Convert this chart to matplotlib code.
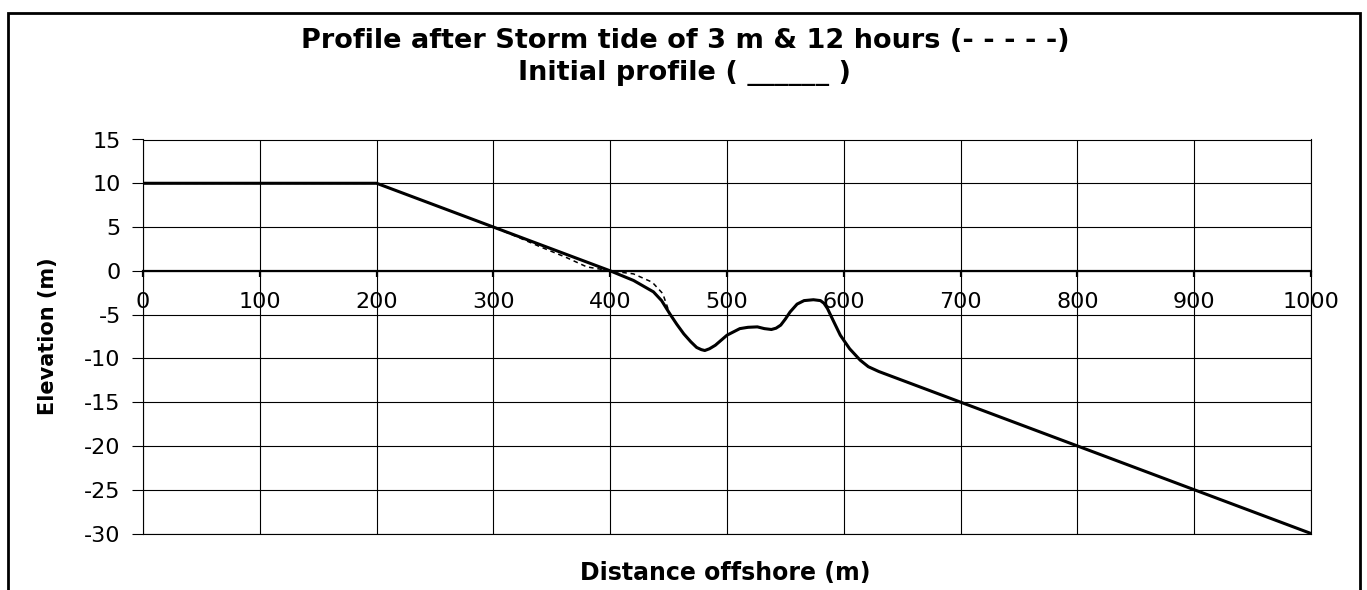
import matplotlib
matplotlib.use('Agg')
import matplotlib.pyplot as plt
from matplotlib.patches import Rectangle

# initial profile (solid)
initial_x = [0, 200, 300, 400, 420, 437, 444, 451, 457, 463, 469, 474, 478, 481, 485, 490, 500, 511,
             518, 526, 532, 538, 542, 546, 550, 554, 560, 566, 574, 580, 583, 586, 591, 597, 605,
             614, 621, 630, 700, 800, 900, 1000]
initial_y = [10, 10, 5, 0, -1.1, -2.4, -3.4, -4.9, -6.1, -7.2, -8.1, -8.75, -9.0, -9.1, -8.9, -8.5,
             -7.35, -6.6, -6.45, -6.4, -6.6, -6.7, -6.55, -6.2, -5.5, -4.7, -3.8, -3.4, -3.3, -3.4,
             -3.7, -4.3, -5.7, -7.35, -8.9, -10.2, -10.95, -11.5, -15, -20, -25, -30]

# profile after storm tide (dashed), only differs around the waterline
storm_x = [0, 200, 300, 320, 340, 362, 380, 400, 420, 436, 445, 451]
storm_y = [10, 10, 5, 3.9, 2.75, 1.55, 0.45, 0, -0.35, -1.3, -2.6, -4.9]

x_ticks = list(range(0, 1001, 100))
y_ticks = list(range(-30, 16, 5))

plt.rcParams['font.family'] = ['DejaVu Sans']
plt.rcParams['axes.unicode_minus'] = False

fig = plt.figure(figsize=(13.67, 5.90), dpi=100)
ax = fig.add_axes([143 / 1367, 1 - 533.5 / 590, 1168 / 1367, 394 / 590])

# after the storm the profile follows the initial one seaward of ~450 m
storm_all_x = storm_x + [x for x in initial_x if x > storm_x[-1]]
storm_all_y = storm_y + [y for x, y in zip(initial_x, initial_y) if x > storm_x[-1]]

ax.plot(storm_all_x, storm_all_y, color='black', linewidth=1.1, linestyle=(0, (3, 2.5)), zorder=3)
ax.plot(initial_x, initial_y, color='black', linewidth=2.2, zorder=4, solid_joinstyle='round')

ax.set_xlim(0, 1000)
ax.set_ylim(-30, 15)
ax.set_xticks(x_ticks)
ax.set_yticks(y_ticks)
ax.grid(True, color='black', linewidth=0.8)
ax.set_axisbelow(True)
ax.axhline(-30, color='black', linewidth=0.8, clip_on=False, zorder=1)

# x axis sits on the zero line, like the excel chart
ax.spines['bottom'].set_position(('data', 0))
ax.spines['bottom'].set_linewidth(1.6)
for side in ['left', 'top', 'right']:
    ax.spines[side].set_linewidth(0.8)

ax.tick_params(axis='x', direction='out', length=4.5, width=1.6, pad=11, labelsize=16)
ax.tick_params(axis='y', direction='out', length=8, width=0.8, pad=8, labelsize=16)

ax.set_ylabel('Elevation (m)', fontsize=15, fontweight='bold', labelpad=19)

fig.text(685 / 1367, 1 - 48 / 590, 'Profile after Storm tide of 3 m & 12 hours (- - - - -)',
         ha='center', va='baseline', fontsize=19.5, fontweight='bold')
fig.text(685 / 1367, 1 - 80 / 590, 'Initial profile ( ______ )',
         ha='center', va='baseline', fontsize=19.5, fontweight='bold')
fig.text(725 / 1367, 1 - 580 / 590, 'Distance offshore (m)',
         ha='center', va='baseline', fontsize=17, fontweight='bold')

# outer chart border (bottom edge is cut off in the original)
fig.patches.append(Rectangle((8 / 1367, -0.05), 1352 / 1367, 1.05 - 13 / 590,
                             transform=fig.transFigure, fill=False,
                             edgecolor='black', linewidth=2))

fig.savefig('out.png', dpi=100)
